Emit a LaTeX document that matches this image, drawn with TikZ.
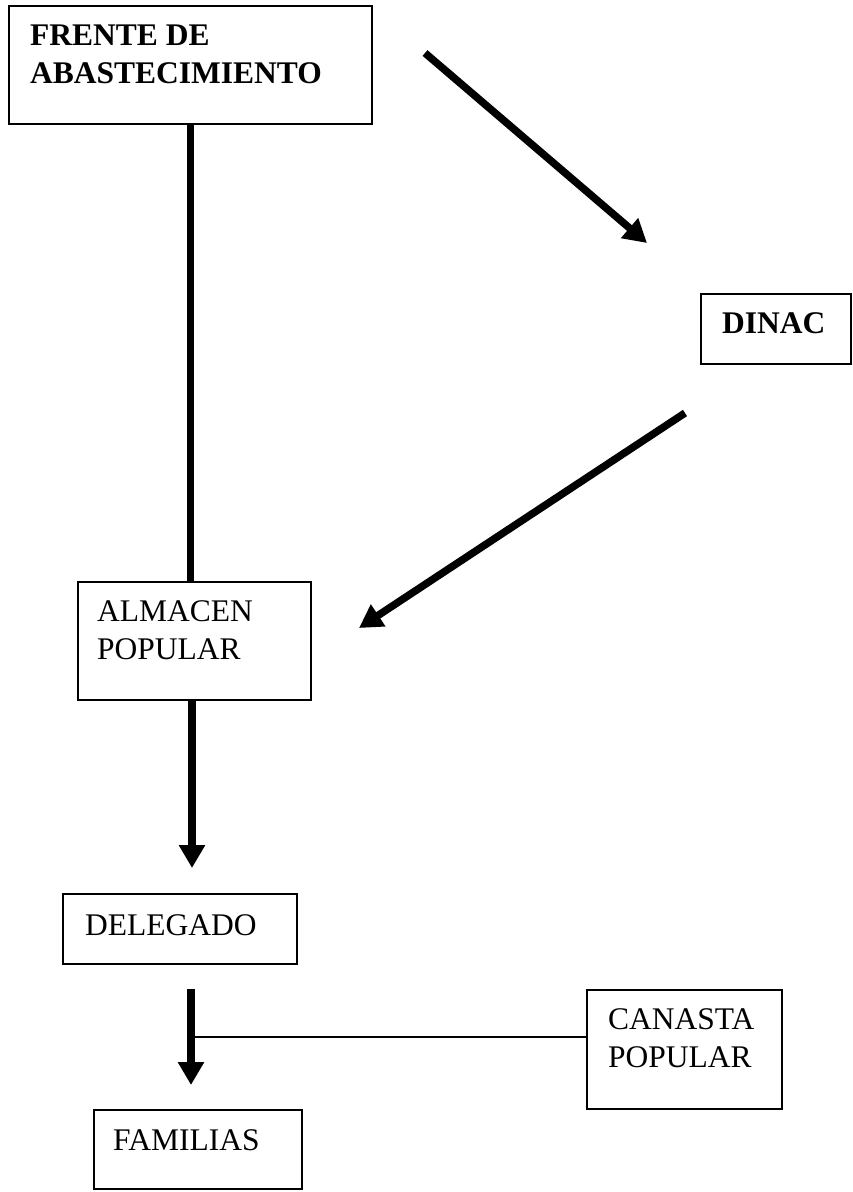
\documentclass[tikz,border=0pt]{standalone}
\usepackage{fontspec}
\setmainfont{Liberation Serif}
\usetikzlibrary{arrows.meta}
\begin{document}
\begin{tikzpicture}[x=1pt,y=-1pt,
  box/.style={draw, line width=2pt, inner sep=0pt},
  txt/.style={inner sep=0pt, anchor=base west, font=\fontsize{31.5}{38}\selectfont},
  btxt/.style={inner sep=0pt, anchor=base west, font=\fontsize{31.5}{38}\selectfont\bfseries},
  flow/.style={line width=7.5pt},
  flowarrow/.style={line width=7.5pt, -{Triangle[width=25pt,length=23pt]}},
  link/.style={line width=1.6pt}]
\useasboundingbox (0,0) rectangle (853,1192);

% boxes
\node[box, minimum width=363pt, minimum height=118pt] (frente)   at (190.5,65)    {};
\node[box, minimum width=150pt, minimum height=70pt]  (dinac)    at (776,329)     {};
\node[box, minimum width=233pt, minimum height=118pt] (almacen)  at (194.5,641)   {};
\node[box, minimum width=234pt, minimum height=70pt]  (delegado) at (180,929)     {};
\node[box, minimum width=208pt, minimum height=79pt]  (familias) at (198,1149.5)  {};
\node[box, minimum width=195pt, minimum height=119pt] (canasta)  at (684.5,1049.5){};

% labels
\node[btxt] (frenteA) at (30,45)  {FRENTE DE};
\node[btxt] (frenteB) at (30,83)  {ABASTECIMIENTO};
\node[btxt] (dinacA)  at (722,333) {DINAC};
\node[txt] (almacenA) at (97,621) {ALMACEN};
\node[txt] (almacenB) at (97,659) {POPULAR};
\node[txt] (delegadoA) at (85,935) {DELEGADO};
\node[txt] (familiasA) at (113,1150) {FAMILIAS};
\node[txt] (canastaA) at (608,1029) {CANASTA};
\node[txt] (canastaB) at (608,1067) {POPULAR};

% free connector ends
\coordinate (s1) at (425,53);
\coordinate (t1) at (647,243);
\coordinate (s2) at (685,413);
\coordinate (t2) at (359,628);
\coordinate (d1) at (192,868);
\coordinate (f0) at (191,989);
\coordinate (f1) at (191,1085);
\coordinate (j)  at (191,1037);

% connectors
\draw[flow] (frente.south) -- (frente.south |- almacen.north);
\draw[flowarrow] (s1) -- (t1);
\draw[flowarrow] (s2) -- (t2);
\draw[flowarrow] (almacen.south -| d1) -- (d1);
\draw[flowarrow] (f0) -- (f1);
\draw[link] (j) -- (j -| canasta.west);
\end{tikzpicture}
\end{document}
